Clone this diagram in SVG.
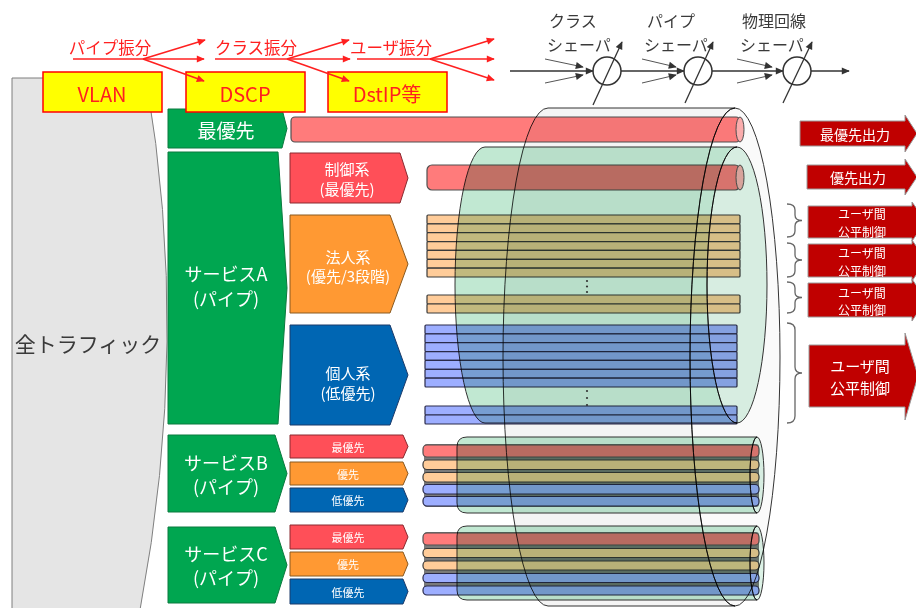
<svg xmlns="http://www.w3.org/2000/svg" width="916" height="608" viewBox="0 0 916 608">
<defs>
<style>
text{font-family:"Noto Sans CJK JP","Noto Sans",sans-serif;text-anchor:middle;dominant-baseline:central}
text.st{text-anchor:start}
.w{fill:#fff}
.red{fill:#ff2020}
.dk{fill:#3a3a3a}
.grn{fill:#00a650;stroke:#0a7a3e;stroke-width:1}
.pr{fill:#ff4f58;stroke:#8a2a30;stroke-width:1}
.po{fill:#ff9933;stroke:#8a5a20;stroke-width:1}
.pb{fill:#0066b3;stroke:#1a3a6a;stroke-width:1}
.br{fill:#ff7b7b;stroke:#505050;stroke-width:1.2}
.bo{fill:#ffcc99;stroke:#3a3a3a;stroke-width:1.2}
.bb{fill:#9daeff;stroke:#2a2a4a;stroke-width:1.2}
.cap{stroke:#505050;stroke-width:1}
.cylg{fill:#c1e8d2;stroke:#333;stroke-width:1;mix-blend-mode:multiply}
.capg{fill:#dcf2e6;stroke:#333;stroke-width:1;mix-blend-mode:multiply}
.cylw{fill:#f4f4f4;stroke:#333;stroke-width:1;mix-blend-mode:multiply}
.capw{fill:#fafafa;stroke:#333;stroke-width:1;mix-blend-mode:multiply}
.out{fill:#c00000;stroke:#9a9a9a;stroke-width:1}
.brace{fill:none;stroke:#666;stroke-width:1.3}
.yb{fill:#ffff00;stroke:#ff0000;stroke-width:1.5}
.ra{stroke:#ff2020;stroke-width:1.6;fill:none;marker-end:url(#mr)}
.ka{stroke:#333;stroke-width:1.3;fill:none;marker-end:url(#mk)}
.kt{stroke:#555;stroke-width:1;fill:none;marker-end:url(#mk)}
</style>
<marker id="mr" viewBox="0 0 10 10" refX="9" refY="5" markerWidth="9" markerHeight="8" orient="auto" markerUnits="userSpaceOnUse"><path d="M0,0.5 L10,5 L0,9.5 Z" fill="#ff2020"/></marker>
<marker id="mk" viewBox="0 0 10 10" refX="9" refY="5" markerWidth="10" markerHeight="8" orient="auto" markerUnits="userSpaceOnUse"><path d="M0,0.5 L10,5 L0,9.5 Z" fill="#333"/></marker>
</defs>
<rect width="916" height="608" fill="#fff"/>

<g id="all-traffic">
<path d="M12,78 L146,78 Q191,340 140,610 L12,610 Z" fill="#e5e5e5" stroke="#7f7f7f" stroke-width="1"/>
<text x="88" y="343" font-size="21" class="dk">全トラフィック</text>
</g>

<g id="top-priority">
<path class="grn" d="M168,109 H282 L287,128.5 L282,148 H168 Z"/>
<text x="226" y="129" font-size="19" class="w">最優先</text>
</g>
<g id="service-a">
<path class="grn" d="M168,152 H278 L287,288 L278,424 H168 Z"/>
<text x="226" y="273" font-size="18" class="w">サービスA</text>
<text x="226" y="298" font-size="18" class="w">(パイプ)</text>
</g>
<g id="service-b">
<path class="grn" d="M168,435 H275 L287,473.5 L275,512 H168 Z"/>
<text x="226" y="462" font-size="18" class="w">サービスB</text>
<text x="226" y="486" font-size="18" class="w">(パイプ)</text>
</g>
<g id="service-c">
<path class="grn" d="M168,527 H275 L287,565 L275,603 H168 Z"/>
<text x="226" y="553" font-size="18" class="w">サービスC</text>
<text x="226" y="577" font-size="18" class="w">(パイプ)</text>
</g>

<g id="class-control">
<path class="pr" d="M290,153 H400 L408,178 L400,203 H290 Z"/>
<text x="347" y="168" font-size="15" class="w">制御系</text>
<text x="347" y="188" font-size="15" class="w">(最優先)</text>
</g>
<g id="class-corporate">
<path class="po" d="M290,215 H390 L408,264 L390,313 H290 Z"/>
<text x="348" y="256" font-size="15" class="w">法人系</text>
<text x="348" y="275" font-size="15" class="w">(優先/3段階)</text>
</g>
<g id="class-personal">
<path class="pb" d="M290,325 H390 L408,375 L390,425 H290 Z"/>
<text x="348" y="372" font-size="15" class="w">個人系</text>
<text x="348" y="392" font-size="15" class="w">(低優先)</text>
</g>
<g id="b-classes">
<path class="pr" d="M290,435 H403 L408,446.5 L403,458 H290 Z"/>
<text x="348" y="446.5" font-size="11" class="w">最優先</text>
<path class="po" d="M290,462 H403 L408,473.5 L403,485 H290 Z"/>
<text x="348" y="473.5" font-size="11" class="w">優先</text>
<path class="pb" d="M290,488 H403 L408,500 L403,512 H290 Z"/>
<text x="348" y="500" font-size="11" class="w">低優先</text>
</g>
<g id="c-classes">
<path class="pr" d="M290,525 H403 L408,537 L403,549 H290 Z"/>
<text x="348" y="537" font-size="11" class="w">最優先</text>
<path class="po" d="M290,552 H403 L408,564 L403,576 H290 Z"/>
<text x="348" y="564" font-size="11" class="w">優先</text>
<path class="pb" d="M290,579 H403 L408,591.5 L403,604 H290 Z"/>
<text x="348" y="591.5" font-size="11" class="w">低優先</text>
</g>

<g id="bars">
<rect class="br" x="291" y="117" width="449" height="25" rx="4"/>
<ellipse class="cap" cx="740" cy="129.5" rx="4" ry="12.5" fill="#ffb0b0"/>
<rect class="br" x="427" y="165" width="313" height="25" rx="5"/>
<ellipse class="cap" cx="740" cy="177.5" rx="4" ry="12.5" fill="#ffb0b0"/>
<rect class="bo" x="427" y="215" width="313" height="8.86" rx="1"/>
<rect class="bo" x="427" y="223.86" width="313" height="8.86" rx="1"/>
<rect class="bo" x="427" y="232.71" width="313" height="8.86" rx="1"/>
<rect class="bo" x="427" y="241.57" width="313" height="8.86" rx="1"/>
<rect class="bo" x="427" y="250.43" width="313" height="8.86" rx="1"/>
<rect class="bo" x="427" y="259.29" width="313" height="8.86" rx="1"/>
<rect class="bo" x="427" y="268.14" width="313" height="8.86" rx="1"/>
<rect class="bo" x="427" y="295" width="313" height="9" rx="1"/>
<rect class="bo" x="427" y="304" width="313" height="9" rx="1"/>
<rect class="bb" x="425" y="325" width="312" height="8.86" rx="1"/>
<rect class="bb" x="425" y="333.86" width="312" height="8.86" rx="1"/>
<rect class="bb" x="425" y="342.71" width="312" height="8.86" rx="1"/>
<rect class="bb" x="425" y="351.57" width="312" height="8.86" rx="1"/>
<rect class="bb" x="425" y="360.43" width="312" height="8.86" rx="1"/>
<rect class="bb" x="425" y="369.29" width="312" height="8.86" rx="1"/>
<rect class="bb" x="425" y="378.14" width="312" height="8.86" rx="1"/>
<rect class="bb" x="425" y="406" width="312" height="9" rx="1"/>
<rect class="bb" x="425" y="415" width="312" height="9" rx="1"/>
<rect x="424" y="444" width="335" height="63" rx="3" fill="#7a7a7a"/>
<rect class="br" x="423" y="445" width="336" height="12" rx="4"/>
<rect class="bo" x="423" y="460" width="336" height="9.5" rx="4"/>
<rect class="bo" x="423" y="472.5" width="336" height="9.5" rx="4"/>
<rect class="bb" x="423" y="484.5" width="336" height="9.5" rx="4"/>
<rect class="bb" x="423" y="496.5" width="336" height="9.5" rx="4"/>
<rect x="424" y="532" width="335" height="63" rx="3" fill="#7a7a7a"/>
<rect class="br" x="423" y="533" width="336" height="12" rx="4"/>
<rect class="bo" x="423" y="548.5" width="336" height="9" rx="4"/>
<rect class="bo" x="423" y="561" width="336" height="9" rx="4"/>
<rect class="bb" x="423" y="573.5" width="336" height="9" rx="4"/>
<rect class="bb" x="423" y="586" width="336" height="9" rx="4"/>
</g>

<g id="physical-line">
<path class="cylw" d="M548,108 H735 A45,249 0 0 0 735,606 H548 A45,249 0 0 1 548,108 Z"/>
<ellipse class="capw" cx="735" cy="357" rx="45" ry="249"/>
</g>
<g id="pipe-a">
<path class="cylg" d="M485,147 H737 A30,138 0 0 0 737,423 H485 A30,138 0 0 1 485,147 Z"/>
<ellipse class="capg" cx="737" cy="285" rx="30" ry="138"/>
</g>
<g id="pipe-b">
<path class="cylg" d="M467,437 H757 A7,38 0 0 0 757,513 H467 Q457,513 457,503 V447 Q457,437 467,437 Z"/>
<ellipse class="capg" cx="757" cy="475" rx="7" ry="38"/>
</g>
<g id="pipe-c">
<path class="cylg" d="M467,526 H757 A7,37 0 0 0 757,600 H467 Q457,600 457,590 V536 Q457,526 467,526 Z"/>
<ellipse class="capg" cx="757" cy="563" rx="7" ry="37"/>
</g>
<g id="dots" fill="#333">
<circle cx="587" cy="281" r="1.1"/><circle cx="587" cy="286.5" r="1.1"/><circle cx="587" cy="292" r="1.1"/>
<circle cx="587" cy="391" r="1.1"/><circle cx="587" cy="398" r="1.1"/><circle cx="587" cy="405" r="1.1"/>
</g>

<g id="out-top">
<path class="out" d="M800,121 H905 V115 L917,133.5 L905,152 V146 H800 Z"/>
<text x="855" y="133.5" font-size="14" class="w">最優先出力</text>
</g>
<g id="out-priority">
<path class="out" d="M807,165 H905 V159 L917,177 L905,195 V189 H807 Z"/>
<text x="858" y="177" font-size="14" class="w">優先出力</text>
</g>
<g id="fair-1">
<path class="out" d="M808,206 H912 V202 L926,221.5 L912,241 V238 H808 Z"/>
<text font-size="12" class="w"><tspan x="862" y="213">ユーザ間</tspan><tspan x="862" y="230.5">公平制御</tspan></text>
</g>
<g id="fair-2">
<path class="out" d="M808,244 H912 V240 L926,260.5 L912,281 V277 H808 Z"/>
<text font-size="12" class="w"><tspan x="862" y="252">ユーザ間</tspan><tspan x="862" y="269.5">公平制御</tspan></text>
</g>
<g id="fair-3">
<path class="out" d="M808,283 H912 V279 L926,300 L912,321 V317 H808 Z"/>
<text font-size="12" class="w"><tspan x="862" y="291.5">ユーザ間</tspan><tspan x="862" y="309">公平制御</tspan></text>
</g>
<g id="fair-4">
<path class="out" d="M809,345 H905 V333 L918,376 L905,420 V407 H809 Z"/>
<text font-size="15" class="w"><tspan x="860" y="365">ユーザ間</tspan><tspan x="860" y="387">公平制御</tspan></text>
</g>
<g id="braces">
<path class="brace" d="M787,204 Q795,204 795,210 V215 Q795,220.5 802,220.5 Q795,220.5 795,226 V231 Q795,237 787,237"/>
<path class="brace" d="M787,243 Q795,243 795,249 V255 Q795,260 802,260 Q795,260 795,265 V271 Q795,277 787,277"/>
<path class="brace" d="M787,282 Q795,282 795,288 V292.5 Q795,297.5 802,297.5 Q795,297.5 795,302.5 V307 Q795,313 787,313"/>
<path class="brace" d="M787,323 Q795,323 795,330 V367 Q795,373 802,373 Q795,373 795,379 V416 Q795,423 787,423"/>
</g>

<g id="vlan">
<rect class="yb" x="43" y="72" width="119" height="40"/>
<text x="102" y="93" font-size="20" class="red">VLAN</text>
</g>
<g id="dscp">
<rect class="yb" x="186" y="72" width="119" height="40"/>
<text x="245" y="93" font-size="20" class="red">DSCP</text>
</g>
<g id="dstip">
<rect class="yb" x="328" y="72" width="119" height="40"/>
<text x="387" y="93" font-size="20" class="red">DstIP等</text>
</g>
<g id="dist-labels">
<text x="110" y="47" font-size="16.5" class="red">パイプ振分</text>
<text x="256" y="47" font-size="16.5" class="red">クラス振分</text>
<text x="391" y="47" font-size="16.5" class="red">ユーザ振分</text>
</g>

<g id="shapers">
<circle cx="607" cy="71" r="14" fill="#fff" stroke="#333" stroke-width="1.5"/>
<circle cx="698" cy="71" r="14" fill="#fff" stroke="#333" stroke-width="1.5"/>
<circle cx="797" cy="71" r="14" fill="#fff" stroke="#333" stroke-width="1.5"/>
<text x="549" y="20" font-size="16" class="st dk">クラス</text>
<text x="547" y="44" font-size="16" class="st dk">シェーパ</text>
<text x="647" y="20" font-size="16" class="st dk">パイプ</text>
<text x="644" y="44" font-size="16" class="st dk">シェーパ</text>
<text x="742" y="20" font-size="16" class="st dk">物理回線</text>
<text x="740" y="44" font-size="16" class="st dk">シェーパ</text>
</g>

<g id="connectors">
<line class="ra" x1="73" y1="59" x2="204" y2="59"/>
<line class="ra" x1="143" y1="59" x2="205" y2="40"/>
<line class="ra" x1="143" y1="59" x2="204" y2="81"/>
<line class="ra" x1="215" y1="59" x2="350" y2="59"/>
<line class="ra" x1="287" y1="59" x2="349" y2="40"/>
<line class="ra" x1="287" y1="59" x2="349" y2="81"/>
<line class="ra" x1="357" y1="59" x2="494" y2="59"/>
<line class="ra" x1="430" y1="59" x2="494" y2="39"/>
<line class="ra" x1="430" y1="59" x2="494" y2="80"/>
<line class="ka" x1="510" y1="71" x2="593" y2="71"/>
<line class="kt" x1="545" y1="59" x2="583" y2="67"/>
<line class="kt" x1="545" y1="83" x2="583" y2="75"/>
<line class="ka" x1="621" y1="71" x2="684" y2="71"/>
<line class="kt" x1="642" y1="59" x2="676" y2="67"/>
<line class="kt" x1="642" y1="83" x2="676" y2="75"/>
<line class="ka" x1="712" y1="71" x2="783" y2="71"/>
<line class="kt" x1="737" y1="59" x2="772" y2="67"/>
<line class="kt" x1="737" y1="83" x2="772" y2="75"/>
<line class="ka" x1="811" y1="71" x2="849" y2="71"/>
<line class="ka" x1="593" y1="105" x2="622" y2="42"/>
<line class="ka" x1="685" y1="103" x2="713" y2="42"/>
<line class="ka" x1="783" y1="103" x2="812" y2="42"/>
</g>
</svg>
